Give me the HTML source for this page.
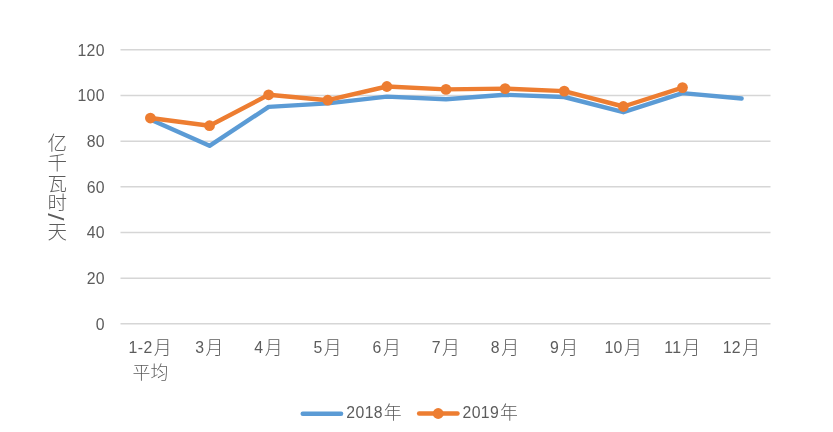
<!DOCTYPE html>
<html lang="zh"><head><meta charset="utf-8"><title>chart</title>
<style>
html,body{margin:0;padding:0;background:#fff}
svg{display:block}
text{fill:#5c5c5c}
.n{font-family:"Liberation Sans",sans-serif;font-size:15.8px;letter-spacing:0.4px}
.c{font-family:"Liberation Sans","Noto Sans CJK SC",sans-serif;font-size:17.9px;font-weight:300;letter-spacing:0}
.t{font-family:"Liberation Sans","Noto Sans CJK SC",sans-serif;font-size:19.5px;font-weight:300}
</style></head><body>
<svg width="833" height="432" viewBox="0 0 833 432">
<rect width="833" height="432" fill="#fff"/>
<g stroke="#D6D6D6" stroke-width="1.5" fill="none">
<line x1="120.50" y1="49.86" x2="770.50" y2="49.86"/>
<line x1="120.50" y1="95.53" x2="770.50" y2="95.53"/>
<line x1="120.50" y1="141.19" x2="770.50" y2="141.19"/>
<line x1="120.50" y1="186.86" x2="770.50" y2="186.86"/>
<line x1="120.50" y1="232.52" x2="770.50" y2="232.52"/>
<line x1="120.50" y1="278.19" x2="770.50" y2="278.19"/>
<line x1="120.50" y1="323.85" x2="770.50" y2="323.85"/>
</g>
<text class="n" x="105.0" y="55.61" text-anchor="end">120</text>
<text class="n" x="105.0" y="101.28" text-anchor="end">100</text>
<text class="n" x="105.0" y="146.94" text-anchor="end">80</text>
<text class="n" x="105.0" y="192.61" text-anchor="end">60</text>
<text class="n" x="105.0" y="238.27" text-anchor="end">40</text>
<text class="n" x="105.0" y="283.94" text-anchor="end">20</text>
<text class="n" x="105.0" y="329.60" text-anchor="end">0</text>
<text x="150.20" y="353" text-anchor="middle"><tspan class="n">1-2</tspan><tspan class="c" dx="1.2" dy="0.6">月</tspan></text>
<text x="209.32" y="353" text-anchor="middle"><tspan class="n">3</tspan><tspan class="c" dx="1.2" dy="0.6">月</tspan></text>
<text x="268.44" y="353" text-anchor="middle"><tspan class="n">4</tspan><tspan class="c" dx="1.2" dy="0.6">月</tspan></text>
<text x="327.56" y="353" text-anchor="middle"><tspan class="n">5</tspan><tspan class="c" dx="1.2" dy="0.6">月</tspan></text>
<text x="386.68" y="353" text-anchor="middle"><tspan class="n">6</tspan><tspan class="c" dx="1.2" dy="0.6">月</tspan></text>
<text x="445.80" y="353" text-anchor="middle"><tspan class="n">7</tspan><tspan class="c" dx="1.2" dy="0.6">月</tspan></text>
<text x="504.92" y="353" text-anchor="middle"><tspan class="n">8</tspan><tspan class="c" dx="1.2" dy="0.6">月</tspan></text>
<text x="564.04" y="353" text-anchor="middle"><tspan class="n">9</tspan><tspan class="c" dx="1.2" dy="0.6">月</tspan></text>
<text x="623.16" y="353" text-anchor="middle"><tspan class="n">10</tspan><tspan class="c" dx="1.2" dy="0.6">月</tspan></text>
<text x="682.28" y="353" text-anchor="middle"><tspan class="n">11</tspan><tspan class="c" dx="1.2" dy="0.6">月</tspan></text>
<text x="741.40" y="353" text-anchor="middle"><tspan class="n">12</tspan><tspan class="c" dx="1.2" dy="0.6">月</tspan></text>
<text class="c" x="150.40" y="378.5" text-anchor="middle">平均</text>
<text class="t" x="57.2" y="149.90" text-anchor="middle">亿</text>
<text class="t" x="57.2" y="170.05" text-anchor="middle">千</text>
<text class="t" x="57.2" y="191.10" text-anchor="middle">瓦</text>
<text class="t" x="57.2" y="209.60" text-anchor="middle">时</text>
<text class="t" x="57.2" y="239.05" text-anchor="middle">天</text>
<text class="n" style="font-size:21.8px;letter-spacing:0" transform="translate(56.0,216.9) rotate(90) scale(1.18,1)" text-anchor="middle" y="7.6">/</text>
<polyline points="150.40,119.50 209.52,145.80 268.64,106.90 327.76,103.40 386.88,96.60 446.00,99.20 505.12,94.80 564.24,97.00 623.36,112.20 682.48,93.10 741.60,98.55" fill="none" stroke="#5B9BD5" stroke-width="4.4" stroke-linecap="round" stroke-linejoin="round"/>
<polyline points="150.40,118.05 209.52,125.70 268.64,94.80 327.76,100.20 386.88,86.50 446.00,89.40 505.12,88.60 564.24,91.10 623.36,106.50 682.48,87.60" fill="none" stroke="#ED7D31" stroke-width="4.4" stroke-linecap="round" stroke-linejoin="round"/>
<g fill="#ED7D31">
<circle cx="150.40" cy="118.05" r="5.4"/>
<circle cx="209.52" cy="125.70" r="5.4"/>
<circle cx="268.64" cy="94.80" r="5.4"/>
<circle cx="327.76" cy="100.20" r="5.4"/>
<circle cx="386.88" cy="86.50" r="5.4"/>
<circle cx="446.00" cy="89.40" r="5.4"/>
<circle cx="505.12" cy="88.60" r="5.4"/>
<circle cx="564.24" cy="91.10" r="5.4"/>
<circle cx="623.36" cy="106.50" r="5.4"/>
<circle cx="682.48" cy="87.60" r="5.4"/>
</g>
<line x1="302.7" y1="413.7" x2="341.1" y2="413.7" stroke="#5B9BD5" stroke-width="4.4" stroke-linecap="round"/>
<text x="346.3" y="417.8"><tspan class="n">2018</tspan><tspan class="c" dx="0.8" dy="0.8">年</tspan></text>
<line x1="419.1" y1="413.5" x2="457.5" y2="413.5" stroke="#ED7D31" stroke-width="4.4" stroke-linecap="round"/>
<circle cx="438.2" cy="413.5" r="5.4" fill="#ED7D31"/>
<text x="462.5" y="417.8"><tspan class="n">2019</tspan><tspan class="c" dx="0.8" dy="0.8">年</tspan></text>
</svg>
</body></html>
